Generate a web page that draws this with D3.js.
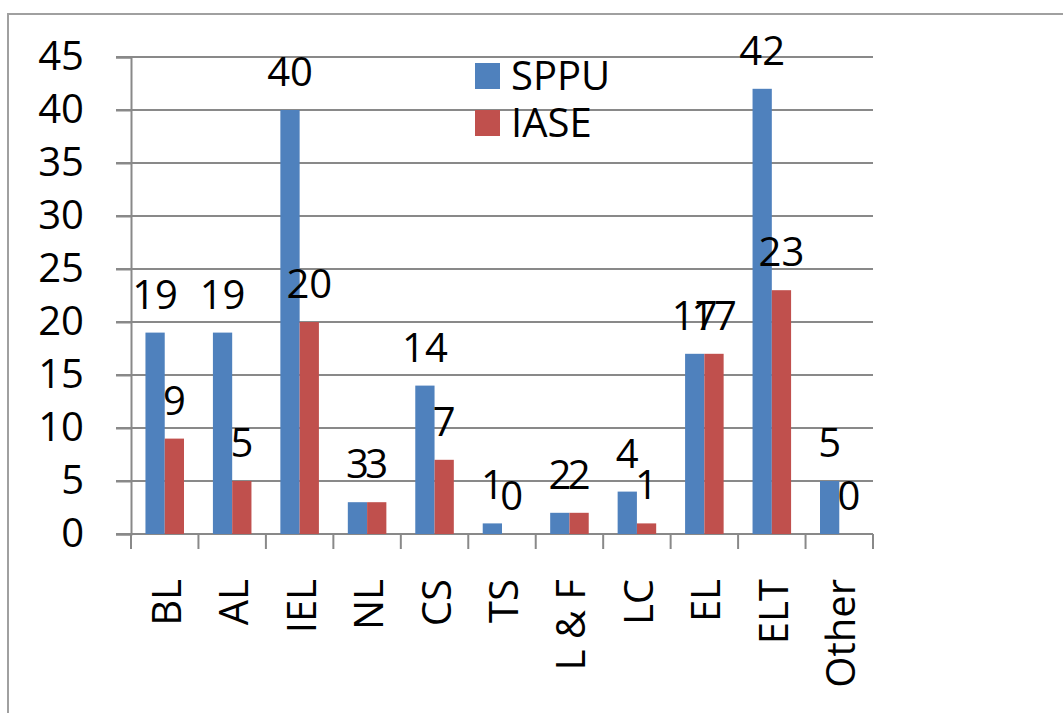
<!DOCTYPE html>
<html>
<head>
<meta charset="utf-8">
<script src="https://cdn.jsdelivr.net/npm/d3@7"></script>
<style>
  body { margin: 0; background: #fff; }
  text { font-family: "Open Sans", "Noto Sans", sans-serif; fill: #000; }
</style>
</head>
<body>
<svg width="1063" height="713"></svg>
<script>
const categories = ['BL', 'AL', 'IEL', 'NL', 'CS', 'TS', 'L & F', 'LC', 'EL', 'ELT', 'Other'];
const series = ['SPPU', 'IASE'];
const sppu = [19, 19, 40, 3, 14, 1, 2, 4, 17, 42, 5];
const iase = [9, 5, 20, 3, 7, 0, 2, 1, 17, 23, 0];
const yTicks = [0, 5, 10, 15, 20, 25, 30, 35, 40, 45];
const colors = ['#4F81BD', '#C0504D'];

const svg = d3.select('svg');
const width = +svg.attr('width');
const height = +svg.attr('height');

// outer chart border
svg.append('rect')
  .attr('x', 8).attr('y', 14)
  .attr('width', width + 10).attr('height', height)
  .attr('fill', 'none')
  .attr('stroke', '#a0a0a0')
  .attr('stroke-width', 2);

const plot = { left: 131, right: 873, top: 57, bottom: 534 };
const fontSize = 40;

const yScale = d3.scaleLinear()
  .domain([0, 45])
  .range([plot.bottom, plot.top]);

const xScale = d3.scaleBand()
  .domain(categories)
  .range([plot.left, plot.right]);

const xSub = d3.scaleBand()
  .domain(series)
  .range([0, xScale.bandwidth()])
  .paddingOuter(0.75);

// gridlines
svg.append('g')
  .selectAll('line')
  .data(yTicks)
  .enter()
  .append('line')
  .attr('x1', plot.left - 15)
  .attr('x2', plot.right)
  .attr('y1', d => yScale(d))
  .attr('y2', d => yScale(d))
  .attr('stroke', '#898989')
  .attr('stroke-width', 2);

// y axis
const yAxis = d3.axisLeft(yScale)
  .tickValues(yTicks)
  .tickSize(15)
  .tickPadding(32);

const yAxisG = svg.append('g')
  .attr('transform', `translate(${plot.left},0)`)
  .call(yAxis);
yAxisG.select('.domain').attr('stroke', '#898989').attr('stroke-width', 2);
yAxisG.selectAll('.tick line').attr('stroke', '#898989').attr('stroke-width', 2);
yAxisG.selectAll('.tick text')
  .attr('font-size', fontSize)
  .attr('font-family', '"Open Sans", "Noto Sans", sans-serif')
  .attr('fill', '#000');

// category ticks at band boundaries
const bounds = categories.map(c => xScale(c)).concat([plot.right]);
svg.append('g')
  .selectAll('line')
  .data(bounds)
  .enter()
  .append('line')
  .attr('x1', d => d).attr('x2', d => d)
  .attr('y1', plot.bottom).attr('y2', plot.bottom + 15)
  .attr('stroke', '#898989')
  .attr('stroke-width', 2);

// bars
const seriesData = [sppu, iase];
series.forEach((s, si) => {
  const g = svg.append('g');
  g.selectAll('rect')
    .data(seriesData[si])
    .enter()
    .append('rect')
    .attr('x', (d, i) => xScale(categories[i]) + xSub(s))
    .attr('y', d => yScale(d))
    .attr('width', xSub.bandwidth())
    .attr('height', d => yScale(0) - yScale(d))
    .attr('fill', colors[si]);

  g.selectAll('text')
    .data(seriesData[si])
    .enter()
    .append('text')
    .attr('x', (d, i) => xScale(categories[i]) + xSub(s) + xSub.bandwidth() / 2)
    .attr('y', d => yScale(d) - 24)
    .attr('text-anchor', 'middle')
    .attr('font-size', fontSize)
    .text(d => d);
});

// category labels (rotated)
svg.append('g')
  .selectAll('text')
  .data(categories)
  .enter()
  .append('text')
  .attr('transform', d => `translate(${xScale(d) + xScale.bandwidth() / 2 + 2},579) rotate(-90)`)
  .attr('text-anchor', 'end')
  .attr('dy', '0.35em')
  .attr('font-size', fontSize)
  .text(d => d);

// legend
const legend = svg.append('g')
  .attr('transform', 'translate(475,63)');
series.forEach((s, i) => {
  legend.append('rect')
    .attr('x', 0).attr('y', i * 47)
    .attr('width', 25).attr('height', 26)
    .attr('fill', colors[i]);
  legend.append('text')
    .attr('x', 36).attr('y', i * 47 + 13)
    .attr('dy', '0.35em')
    .attr('font-size', fontSize)
    .text(s);
});
</script>
</body>
</html>
